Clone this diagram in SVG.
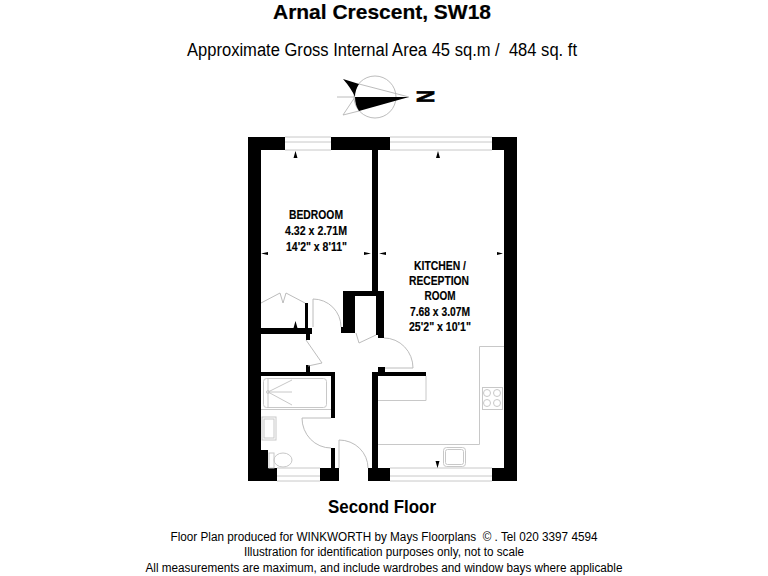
<svg xmlns="http://www.w3.org/2000/svg" width="768" height="576" viewBox="0 0 768 576">
<style>
text{font-family:"Liberation Sans",Arial,sans-serif;fill:#000;text-anchor:middle}
.t text{font-weight:bold;font-size:13px;stroke:#000;stroke-width:.15}
.w{fill:#000}
.l{fill:none;stroke:#b4b4b4;stroke-width:.9}
.g{fill:none;stroke:#c8c8c8;stroke-width:1}
</style>
<rect width="768" height="576" fill="#fff"/>
<text x="382" y="18.700" font-size="20.500" font-weight="bold" stroke="#000" stroke-width=".2" textLength="218" lengthAdjust="spacingAndGlyphs">Arnal Crescent, SW18</text>
<text x="382" y="56" font-size="18" textLength="390" lengthAdjust="spacingAndGlyphs" xml:space="preserve">Approximate Gross Internal Area 45 sq.m /  484 sq. ft</text>
<g id="compass">
<circle cx="375" cy="97" r="21" class="l"/>
<path class="l" d="M337 97H355M343 115L355 97M343 115L359 111M359 84L409 97"/>
<path class="w" d="M343 79L359 84Q355 90 355 97Q351 88 343 79Z"/>
<path class="w" d="M409 97H355Q355 105 359 111Z"/>
<text transform="translate(417 96.500) rotate(90)" font-size="24" font-weight="bold" stroke="#000" stroke-width=".8" textLength="13" lengthAdjust="spacingAndGlyphs">N</text>
</g>
<g id="walls" class="w">
<path d="M248 137H285V150H261V328H305V303H308V328H312V334H310V340H306V334H261V372H306V365H310V372H335V418H331V376H261V450H268V468H277V481H248Z"/>
<path d="M331 137H390V150H378V291H384V338H378V335H376V296H355V333H341V327H343V291H372V150H331Z"/>
<path d="M492 137H517V481H492V468H504V150H492Z"/>
<path d="M331 448H335V468H339V481H320V468H331Z"/>
<path d="M368 468H372V372H378V367H385V372H426V376H378V468H390V481H368Z"/>
</g>
<g id="windows" class="g">
<path d="M285 137H331M285 142H331M285 150H331M390 137H492M390 142H492M390 150H492"/>
<path d="M277 468H320M277 476H320M277 481H320M390 468H492M390 476H492M390 481H492"/>
</g>
<g id="doors" class="l">
<path d="M313 299V327M313 299A28 28 0 0 1 341 327"/>
<path d="M306 340L322 363L308 366"/>
<path d="M356 333L359 343L376 335"/>
<path d="M384 338A29 30 0 0 1 413 368H385"/>
<path d="M302 418H331M302 418A29 30 0 0 0 331 448"/>
<path d="M339 440V468M339 440A29 28 0 0 1 368 468"/>
<path d="M261 303L280 293L283 303L286 293L305 303"/>
</g>
<g id="fittings" class="g">
<rect x="263.500" y="378.500" width="63" height="29" rx="3"/>
<path d="M268 379V407M268 392L292 380M268 392H292M268 392L292 405"/>
<circle cx="268" cy="392" r="1.500"/>
<path d="M261 409.500H331"/>
<rect x="262" y="417" width="14" height="23"/><rect x="264" y="419" width="10" height="19"/>
<rect x="269" y="453" width="5" height="15"/><ellipse cx="283" cy="460" rx="9" ry="7"/>
<path d="M378 400.500H426V376"/>
<path d="M378 444.500H479.500V346.500H504"/>
<rect x="482.500" y="387.500" width="20" height="22"/>
<circle cx="487" cy="393" r="3.500"/><circle cx="497" cy="393" r="3.500"/><circle cx="487" cy="403" r="3.500"/><circle cx="497" cy="403" r="3.500"/>
<rect x="443.500" y="447.500" width="22" height="19" rx="3"/><rect x="445.500" y="449.500" width="18" height="15" rx="2"/>
</g>
<g id="ticks" class="w">
<path d="M295.500 151L297.500 158H293.500Z"/><path d="M438 151L440 158H436Z"/>
<path d="M437.500 468L435.500 461H439.500Z"/>
<path d="M295.500 321L297.500 328H293.500Z"/>
<path d="M261 253.500L268 252V255ZM371 253.500L364 252V255ZM379 253.500L386 252V255ZM503 253.500L497 252V255Z"/>
</g>
<g id="bedroom-label" class="t">
<text x="316" y="219" textLength="54" lengthAdjust="spacingAndGlyphs">BEDROOM</text>
<text x="316" y="235" textLength="62" lengthAdjust="spacingAndGlyphs">4.32 x 2.71M</text>
<text x="316.500" y="251" textLength="61" lengthAdjust="spacingAndGlyphs">14'2" x 8'11"</text>
</g>
<g id="kitchen-label" class="t">
<text x="440" y="270" textLength="52" lengthAdjust="spacingAndGlyphs">KITCHEN /</text>
<text x="439" y="285" textLength="60" lengthAdjust="spacingAndGlyphs">RECEPTION</text>
<text x="440" y="300" textLength="31" lengthAdjust="spacingAndGlyphs">ROOM</text>
<text x="440" y="316" textLength="60" lengthAdjust="spacingAndGlyphs">7.68 x 3.07M</text>
<text x="440" y="331" textLength="62" lengthAdjust="spacingAndGlyphs">25'2" x 10'1"</text>
</g>
<text x="382" y="513" font-size="18" font-weight="bold" textLength="108" lengthAdjust="spacingAndGlyphs">Second Floor</text>
<text x="384" y="541" font-size="12.500" textLength="427" lengthAdjust="spacingAndGlyphs" xml:space="preserve">Floor Plan produced for WINKWORTH by Mays Floorplans  © . Tel 020 3397 4594</text>
<text x="384" y="556" font-size="12.500" textLength="280" lengthAdjust="spacingAndGlyphs">Illustration for identification purposes only, not to scale</text>
<text x="384" y="572" font-size="12.500" textLength="477" lengthAdjust="spacingAndGlyphs">All measurements are maximum, and include wardrobes and window bays where applicable</text>
</svg>
